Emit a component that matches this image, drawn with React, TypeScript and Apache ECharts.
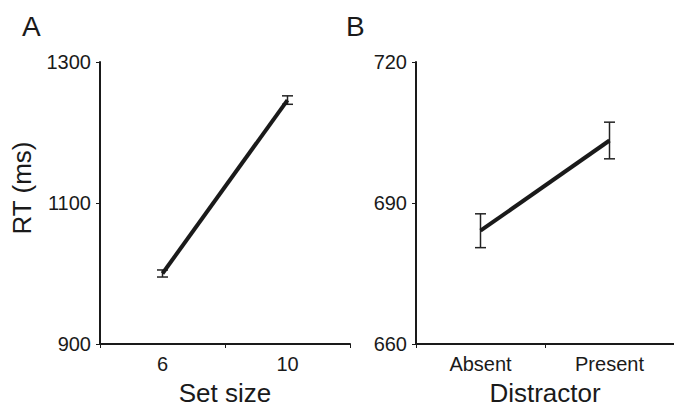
import React, { useEffect, useRef } from "react";
import * as echarts from "echarts";

// Panel A: set size
const setSizeCategories = ["6", "10"];
const setSizeRT = [1000, 1246];
const setSizeErr = [5, 6];
const setSizeTicks = { min: 900, max: 1300, interval: 200 };

// Panel B: distractor
const distractorCategories = ["Absent", "Present"];
const distractorRT = [684.1, 703.3];
const distractorErr = [3.6, 3.9];
const distractorTicks = { min: 660, max: 720, interval: 30 };

const FONT = "'Liberation Sans', Arial, Helvetica, sans-serif";
const INK = "#1a1a1a";

function errorData(values: number[], errs: number[]) {
  return values.map((v, i) => [i, v - errs[i], v + errs[i]]);
}

function renderErrorBar(params: any, api: any) {
  const x = api.value(0);
  const lo = api.value(1);
  const hi = api.value(2);
  const top = api.coord([x, hi]);
  const bot = api.coord([x, lo]);
  const half = 5.5;
  const style = { stroke: "#222", lineWidth: 1.5 };
  return {
    type: "group",
    children: [
      { type: "line", shape: { x1: top[0], y1: top[1], x2: bot[0], y2: bot[1] }, style },
      { type: "line", shape: { x1: top[0] - half, y1: top[1], x2: top[0] + half, y2: top[1] }, style },
      { type: "line", shape: { x1: bot[0] - half, y1: bot[1], x2: bot[0] + half, y2: bot[1] }, style },
    ],
  };
}

function xAxisCfg(gridIndex: number, data: string[], name: string) {
  return {
    type: "category",
    gridIndex,
    data,
    boundaryGap: true,
    name,
    nameLocation: "middle",
    nameGap: 36,
    nameTextStyle: { fontFamily: FONT, fontSize: 26, color: INK },
    axisLine: { show: true, lineStyle: { color: INK, width: 2 } },
    axisTick: { show: true, length: 4, interval: 0, lineStyle: { color: INK, width: 1 } },
    axisLabel: { fontFamily: FONT, fontSize: 20, color: INK, margin: 10, interval: 0 },
    splitLine: { show: false },
  };
}

function yAxisCfg(gridIndex: number, t: { min: number; max: number; interval: number }) {
  return {
    type: "value",
    gridIndex,
    min: t.min,
    max: t.max,
    interval: t.interval,
    axisLine: { show: true, lineStyle: { color: INK, width: 2 } },
    axisTick: { show: true, length: 4, lineStyle: { color: INK, width: 1 } },
    axisLabel: {
      fontFamily: FONT,
      fontSize: 20,
      color: INK,
      margin: 9,
      formatter: (v: number) => String(v),
    },
    splitLine: { show: false },
  };
}

export default function App() {
  const ref = useRef<HTMLDivElement>(null);

  useEffect(() => {
    if (!ref.current) return;
    const chart = echarts.init(ref.current, null, { renderer: "svg" });
    chart.setOption({
      animation: false,
      backgroundColor: "#ffffff",
      grid: [
        { left: 100, top: 62, width: 250, height: 282 },
        { left: 416, top: 62, width: 260, height: 282 },
      ],
      xAxis: [
        xAxisCfg(0, setSizeCategories, "Set size"),
        xAxisCfg(1, distractorCategories, "Distractor"),
      ],
      yAxis: [yAxisCfg(0, setSizeTicks), yAxisCfg(1, distractorTicks)],
      graphic: [
        { type: "text", left: 22, top: 12, style: { text: "A", font: `28px ${FONT}`, fill: INK } },
        { type: "text", left: 346, top: 12, style: { text: "B", font: `28px ${FONT}`, fill: INK } },
        {
          type: "text",
          x: 22,
          y: 188,
          rotation: Math.PI / 2,
          style: {
            text: "RT (ms)",
            font: `26px ${FONT}`,
            fill: INK,
            align: "center",
            verticalAlign: "middle",
          },
        },
      ],
      series: [
        {
          type: "line",
          xAxisIndex: 0,
          yAxisIndex: 0,
          data: setSizeRT,
          symbol: "none",
          lineStyle: { color: INK, width: 4 },
          z: 3,
        },
        {
          type: "custom",
          xAxisIndex: 0,
          yAxisIndex: 0,
          data: errorData(setSizeRT, setSizeErr),
          encode: { x: 0, y: [1, 2] },
          renderItem: renderErrorBar,
          z: 2,
        },
        {
          type: "line",
          xAxisIndex: 1,
          yAxisIndex: 1,
          data: distractorRT,
          symbol: "none",
          lineStyle: { color: INK, width: 4 },
          z: 3,
        },
        {
          type: "custom",
          xAxisIndex: 1,
          yAxisIndex: 1,
          data: errorData(distractorRT, distractorErr),
          encode: { x: 0, y: [1, 2] },
          renderItem: renderErrorBar,
          z: 2,
        },
      ],
    });
    return () => chart.dispose();
  }, []);

  return (
    <div
      ref={ref}
      style={{ position: "fixed", left: 0, top: 0, width: 674, height: 411, background: "#fff" }}
    />
  );
}
